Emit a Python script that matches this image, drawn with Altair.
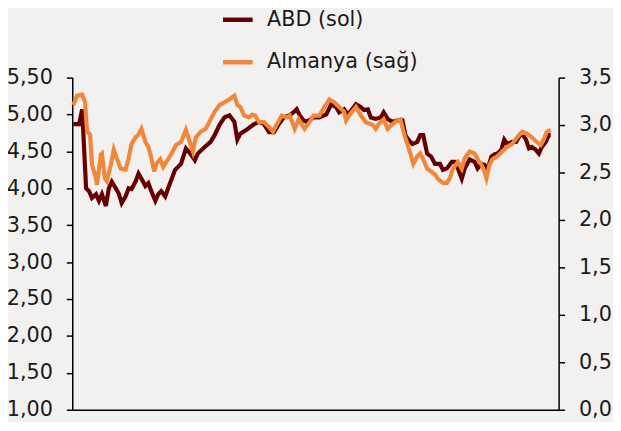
import altair as alt
import pandas as pd

seriler = ["ABD (sol)", "Almanya (sağ)"]
renkler = ["#660000", "#F0873A"]

abd_t = [1, 7, 10, 14, 17, 20, 24, 27, 30, 34, 37, 40, 44, 47, 50, 54, 57, 60, 64, 67,
         70, 74, 77, 80, 84, 87, 90, 94, 97, 104, 110, 115, 120, 124, 127, 134, 140, 144, 149, 154,
         159, 164, 167, 170, 177, 184, 189, 194, 199, 204, 209, 214, 220, 224, 227, 230, 234, 237, 244, 250,
         257, 262, 267, 270, 275, 279, 287, 292, 295, 299, 302, 307, 312, 315, 319, 324, 329, 334, 337, 340,
         344, 349, 352, 355, 359, 363, 367, 372, 375, 379, 384, 387, 390, 394, 397, 402, 407, 410, 414, 417,
         420, 424, 427, 430, 434, 437, 440, 445, 449, 452, 455, 459, 462, 465, 469, 472, 475, 479, 482, 484]
abd_v = [4.87, 4.87, 5.07, 4.00, 3.96, 3.87, 3.92, 3.83, 3.92, 3.76, 4.00, 4.09, 4.00, 3.93, 3.80, 3.89, 4.00, 3.99, 4.09, 4.20,
         4.13, 4.03, 4.07, 3.96, 3.83, 3.92, 3.96, 3.89, 4.00, 4.25, 4.33, 4.54, 4.46, 4.38, 4.47, 4.56, 4.63, 4.72, 4.86, 4.96,
         4.99, 4.90, 4.66, 4.74, 4.80, 4.87, 4.90, 4.87, 4.76, 4.76, 4.87, 4.96, 4.99, 5.03, 5.07, 4.99, 4.92, 4.90, 4.96, 4.96,
         5.00, 5.14, 5.10, 5.03, 5.07, 5.00, 5.14, 5.10, 5.06, 5.07, 4.96, 4.94, 4.96, 5.03, 4.94, 4.90, 4.92, 4.92, 4.72, 4.66,
         4.60, 4.63, 4.72, 4.72, 4.47, 4.43, 4.33, 4.33, 4.25, 4.27, 4.36, 4.36, 4.27, 4.13, 4.27, 4.39, 4.36, 4.27, 4.33, 4.32,
         4.25, 4.43, 4.46, 4.47, 4.52, 4.66, 4.60, 4.63, 4.63, 4.70, 4.74, 4.66, 4.54, 4.56, 4.52, 4.47, 4.56, 4.63, 4.72, 4.72]

alm_t = [1, 5, 10, 13, 15, 18, 20, 24, 25, 29, 30, 33, 35, 39, 42, 45, 49, 54, 57, 60,
         64, 67, 70, 74, 77, 80, 83, 85, 89, 92, 95, 100, 105, 110, 115, 122, 125, 130, 135, 140,
         144, 149, 154, 159, 164, 167, 170, 174, 179, 182, 185, 189, 194, 199, 203, 207, 212, 217, 220, 225,
         229, 232, 235, 240, 244, 250, 255, 260, 265, 270, 275, 277, 280, 287, 292, 297, 304, 307, 310, 315,
         319, 324, 329, 332, 335, 339, 342, 345, 349, 352, 355, 359, 363, 367, 370, 375, 379, 382, 385, 390,
         394, 397, 402, 407, 410, 414, 417, 419, 422, 425, 430, 435, 440, 445, 450, 455, 460, 465, 470, 474,
         477, 480, 484]
alm_v = [3.21, 3.31, 3.32, 3.24, 2.93, 2.90, 2.58, 2.44, 2.37, 2.69, 2.70, 2.44, 2.41, 2.58, 2.74, 2.65, 2.54, 2.53, 2.65, 2.80,
         2.87, 2.90, 2.96, 2.82, 2.77, 2.65, 2.51, 2.59, 2.64, 2.56, 2.61, 2.69, 2.79, 2.82, 2.95, 2.72, 2.87, 2.93, 2.96, 3.06,
         3.14, 3.21, 3.24, 3.27, 3.31, 3.21, 3.19, 3.10, 3.08, 3.11, 3.10, 3.03, 3.03, 2.98, 2.93, 3.01, 3.10, 3.08, 3.10, 2.96,
         3.06, 3.01, 2.96, 3.03, 3.10, 3.10, 3.19, 3.27, 3.24, 3.19, 3.14, 3.05, 3.10, 3.19, 3.10, 3.03, 3.00, 2.96, 3.01, 3.06,
         2.96, 3.01, 3.05, 3.06, 2.93, 2.80, 2.70, 2.59, 2.67, 2.70, 2.64, 2.54, 2.51, 2.48, 2.43, 2.39, 2.39, 2.44, 2.54, 2.61,
         2.54, 2.65, 2.72, 2.70, 2.64, 2.58, 2.51, 2.44, 2.58, 2.64, 2.67, 2.72, 2.77, 2.80, 2.87, 2.93, 2.91, 2.87, 2.82, 2.79,
         2.85, 2.93, 2.95]

sol_ticks = [1.0, 1.5, 2.0, 2.5, 3.0, 3.5, 4.0, 4.5, 5.0, 5.5]
sag_ticks = [0.0, 0.5, 1.0, 1.5, 2.0, 2.5, 3.0, 3.5]

df_abd = pd.DataFrame({"t": abd_t, "v": abd_v, "seri": seriler[0]})
df_alm = pd.DataFrame({"t": alm_t, "v": alm_v, "seri": seriler[1]})

FONT = "DejaVu Sans"
FS = 21
TXT = "#1a1a1a"

x_enc = alt.X("t:Q", scale=alt.Scale(domain=[0, 492], nice=False, zero=False),
              axis=alt.Axis(title=None, labels=False, ticks=False, grid=False,
                            domainColor="black", domainWidth=1.5))
color_enc = alt.Color("seri:N", scale=alt.Scale(domain=seriler, range=renkler),
                      legend=alt.Legend(title=None, orient="none", legendX=150, legendY=-76,
                                        symbolType="stroke", symbolSize=900, symbolStrokeWidth=4.5,
                                        labelFont=FONT, labelFontSize=FS, labelColor=TXT,
                                        labelOffset=12, rowPadding=15, padding=0))

left = alt.Chart(df_abd).mark_line(strokeWidth=4.2, interpolate="linear").encode(
    x=x_enc,
    y=alt.Y("v:Q", scale=alt.Scale(domain=[1.0, 5.5], nice=False, zero=False),
            axis=alt.Axis(title=None, values=sol_ticks, grid=False, orient="left",
                          labelExpr="replace(format(datum.value, '.2f'), '.', ',')",
                          labelFont=FONT, labelFontSize=FS, labelColor=TXT, labelPadding=14,
                          tickSize=6, tickColor="black", tickWidth=1.5,
                          domainColor="black", domainWidth=1.5)),
    color=color_enc,
)

right = alt.Chart(df_alm).mark_line(strokeWidth=4.2, interpolate="linear").encode(
    x=x_enc,
    y=alt.Y("v:Q", scale=alt.Scale(domain=[0.0, 3.5], nice=False, zero=False),
            axis=alt.Axis(title=None, values=sag_ticks, grid=False, orient="right",
                          labelExpr="replace(format(datum.value, '.1f'), '.', ',')",
                          labelFont=FONT, labelFontSize=FS, labelColor=TXT, labelPadding=14,
                          tickSize=6, tickColor="black", tickWidth=1.5,
                          domainColor="black", domainWidth=1.5)),
    color=color_enc,
)

chart = alt.layer(left, right).resolve_scale(y="independent").properties(
    width=492, height=336,
    autosize=alt.AutoSizeParams(type="none"),
    padding={"left": 65, "top": 68, "right": 55, "bottom": 10},
    background="#F3F1EF",
).configure_view(stroke=None)

chart.save("out.html", embed_options={"renderer": "svg", "actions": False})
